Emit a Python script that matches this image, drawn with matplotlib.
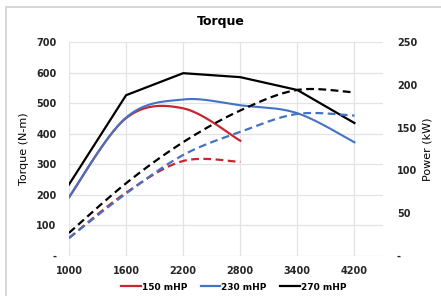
import matplotlib.pyplot as plt
from matplotlib.lines import Line2D
from matplotlib.patches import Rectangle
import numpy as np

rpm = ["1000", "1600", "2200", "2800", "3400", "4200"]

torque_150 = [192, 451, 483, 377]
torque_230 = [193, 453, 512, 493, 467, 372]
torque_270 = [234, 526, 598, 585, 543, 435]

power_150 = [21, 74, 111, 110]
power_230 = [21, 73, 118, 145, 166, 164]
power_270 = [27, 85, 133, 170, 194, 191]

RED = "#C8262E"
BLUE = "#4472C4"
BLACK = "#000000"


def smooth(ys, n=30):
    # Excel-style smoothed line (Catmull-Rom via cubic Bezier)
    ys = list(ys)
    xs = list(range(len(ys)))
    px, py = [], []
    for i in range(len(ys) - 1):
        x0, y0 = xs[max(i - 1, 0)], ys[max(i - 1, 0)]
        x1, y1 = xs[i], ys[i]
        x2, y2 = xs[i + 1], ys[i + 1]
        x3, y3 = xs[min(i + 2, len(ys) - 1)], ys[min(i + 2, len(ys) - 1)]
        c1 = (x1 + (x2 - x0) / 6, y1 + (y2 - y0) / 6)
        c2 = (x2 - (x3 - x1) / 6, y2 - (y3 - y1) / 6)
        t = np.linspace(0, 1, n)
        bx = (1 - t) ** 3 * x1 + 3 * (1 - t) ** 2 * t * c1[0] + 3 * (1 - t) * t ** 2 * c2[0] + t ** 3 * x2
        by = (1 - t) ** 3 * y1 + 3 * (1 - t) ** 2 * t * c1[1] + 3 * (1 - t) * t ** 2 * c2[1] + t ** 3 * y2
        px.extend(bx)
        py.extend(by)
    return px, py


fig = plt.figure(figsize=(4.41, 2.96), dpi=100)
fig.patches.append(Rectangle((6 / 441, -0.05), 1.1, 1 - 7 / 296 + 0.05,
                             transform=fig.transFigure, fill=False,
                             edgecolor="#D0D0D0", linewidth=1.2))
ax = fig.add_axes([69 / 441, 1 - 256 / 296, (383 - 69) / 441, (256 - 42) / 296])
ax2 = ax.twinx()

ax.plot(*smooth(torque_150), color=RED, lw=1.6)
ax.plot(*smooth(torque_230), color=BLUE, lw=1.5)
ax.plot(range(len(torque_270)), torque_270, color=BLACK, lw=1.6)

ax2.plot(*smooth(power_150), color=RED, lw=1.6, ls=(0, (3.5, 2)))
ax2.plot(*smooth(power_230), color=BLUE, lw=1.6, ls=(0, (3.5, 2)))
ax2.plot(*smooth(power_270), color=BLACK, lw=1.6, ls=(0, (3.5, 2)))

ax.set_xlim(0, 5.5)
ax.set_ylim(0, 700)
ax2.set_ylim(0, 250)
ax.set_xticks(range(len(rpm)))
ax.set_xticklabels(rpm)
ax.set_yticks(range(0, 701, 100))
ax.set_yticklabels(["-"] + [str(v) for v in range(100, 701, 100)])
ax2.set_yticks(range(0, 251, 50))
ax2.set_yticklabels(["-"] + [str(v) for v in range(50, 251, 50)])

ax.grid(True, color="#E3E3E3", lw=0.9)
ax.set_axisbelow(True)
for a in (ax, ax2):
    for s in a.spines.values():
        s.set_visible(False)
    a.tick_params(length=0, labelsize=7, labelcolor="#262626")
    for lbl in a.get_xticklabels() + a.get_yticklabels():
        lbl.set_fontweight("bold")
ax.tick_params(axis="x", pad=7)
ax.tick_params(axis="y", pad=9)
ax2.tick_params(axis="y", pad=10)

ax.set_ylabel("Torque (N-m)", fontsize=8, labelpad=5)
ax2.set_ylabel("Power (kW)", fontsize=8, labelpad=4)
fig.text(0.5, 1 - 22 / 296, "Torque", ha="center", va="center",
         fontsize=9, fontweight="bold")

handles = [Line2D([], [], color=c, lw=1.6) for c in (RED, BLUE, BLACK)]
fig.legend(handles, ["150 mHP", "230 mHP", "270 mHP"], loc="center",
           bbox_to_anchor=(0.53, 1 - 287 / 296), ncol=3, frameon=False,
           handlelength=2.2, handletextpad=0.1, columnspacing=1.5,
           prop={"weight": "bold", "size": 6.5})

fig.savefig("out.png", dpi=100)
